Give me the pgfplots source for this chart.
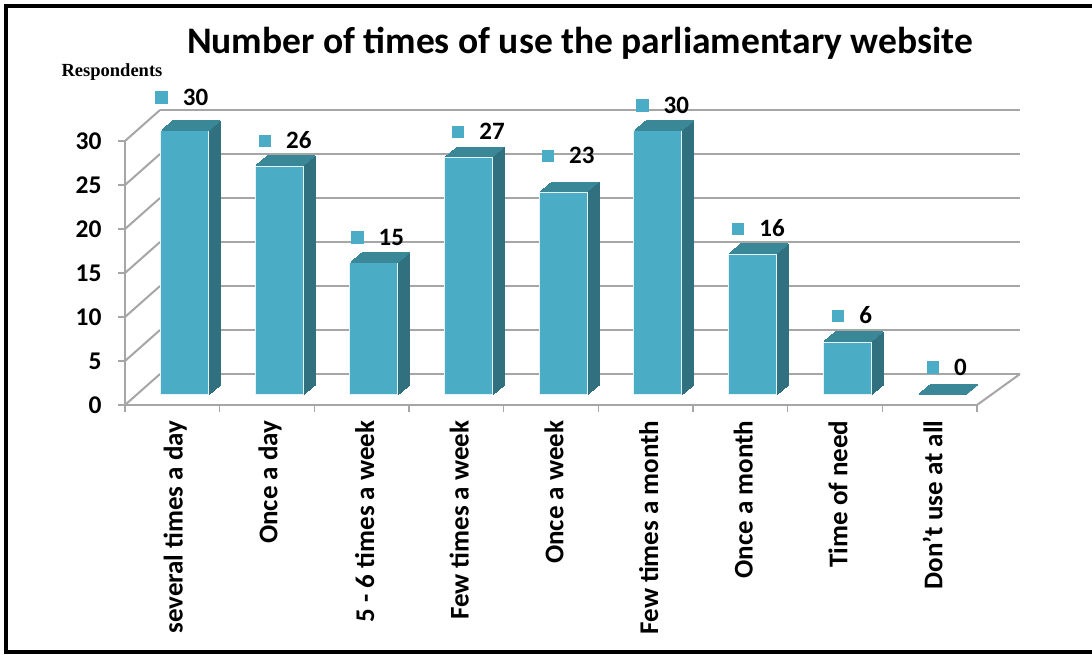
\documentclass[border=0pt]{standalone}
\usepackage{pgfplots}
\pgfplotsset{compat=1.18}
\usepackage{pgfplotstable}
\usepackage{fontspec}
\setmainfont{Carlito}
\newfontfamily\timesfont{Liberation Serif}
\definecolor{front}{HTML}{4BACC6}
\definecolor{side}{HTML}{31707E}
\definecolor{topc}{HTML}{3A8797}
\definecolor{gridc}{HTML}{A6A6A6}

\pgfplotstableread{
x y off xoff
0 30 44 9.5
1 26 36 18
2 15 36 16
3 27 36 22
4 23 47 17
5 30 36 17
6 16 36 18
7 6 37 17
8 0 38 17
}\data

\newcommand{\sideplot}[2]{\addplot[ybar, bar width=48pt, bar shift=0pt, fill=side, draw=side, line width=0.8pt, xshift=#1pt, yshift=#2pt, forget plot] table[x=x,y=y]{\data};}
\newcommand{\topplot}[2]{\addplot[only marks, mark=-, mark size=24pt, mark options={draw=topc, line width=1.6pt}, xshift=#1pt, yshift=#2pt, forget plot] table[x=x,y=y]{\data};}

\begin{document}
\begin{tikzpicture}
\useasboundingbox (0,0) rectangle (1092pt,655pt);
\fill[white] (0,0) rectangle (1092pt,655pt);
\draw[line width=4pt] (1100pt,649pt) -- (6pt,649pt) -- (6pt,2.5pt) -- (1100pt,2.5pt);
\node[font=\fontsize{37.5}{42}\selectfont\bfseries] at (580pt,612pt) {Number of times of use the parliamentary website};
\node[font=\timesfont\fontsize{18.5}{20}\selectfont\bfseries] at (112pt,583pt) {Respondents};
\begin{axis}[
  at={(125pt,250pt)}, anchor=south west,
  scale only axis, width=852pt, height=264pt,
  xmin=-0.5, xmax=8.5, ymin=0, ymax=30,
  clip=false,
  axis x line*=bottom, axis y line*=left,
  axis line style={gridc, line width=1.5pt, -},
  tick style={gridc, line width=1.5pt},
  tick align=outside, major tick length=7pt,
  ytick={0,5,...,30}, yticklabels={0,5,10,15,20,25,30},
  xtick={-0.5,0.5,...,8.5}, xticklabels={},
  extra x ticks={0,1,...,8},
  extra x tick labels={several times a day, Once a day, 5 - 6 times a week, Few times a week, Once a week, Few times a month, Once a month, Time of need, Don{\char39}t use at all},
  extra x tick style={major tick length=0pt},
  xticklabel style={rotate=90, anchor=east, font=\fontsize{27}{30}\selectfont\bfseries, xshift=-12pt, yshift=-3pt},
  yticklabel style={font=\fontsize{25.5}{28}\selectfont\bfseries, xshift=-13pt},
]
\pgfplotsinvokeforeach{0,5,...,30}{
  \draw[gridc, line width=2.5pt] ([shift={(35pt,31pt)}]axis cs:-0.5,#1) -- ([shift={(43pt,31pt)}]axis cs:8.5,#1);
  \draw[gridc, line width=2pt] (axis cs:-0.5,#1) -- ++(35pt,31pt);
}
\draw[gridc, line width=2pt] (axis cs:8.5,0) -- ++(43pt,31pt);

\sideplot{24}{20}
\sideplot{22.8}{19}
\sideplot{21.6}{18}
\sideplot{20.4}{17}
\sideplot{19.2}{16}
\sideplot{18}{15}
\sideplot{16.8}{14}
\sideplot{15.6}{13}
\sideplot{14.4}{12}
\sideplot{13.2}{11}
\topplot{24}{20}
\topplot{22.8}{19}
\topplot{21.6}{18}
\topplot{20.4}{17}
\topplot{19.2}{16}
\topplot{18}{15}
\topplot{16.8}{14}
\topplot{15.6}{13}
\topplot{14.4}{12}
\topplot{13.2}{11}
\addplot[ybar, bar width=48pt, bar shift=0pt, fill=front, draw=white!85!front, line width=1pt, xshift=12pt, yshift=10pt] table[x=x,y=y]{\data};

\addplot[only marks, mark=text, text mark={},
  point meta=explicit symbolic,
  visualization depends on={\thisrow{off} \as \myoff},
  visualization depends on={\thisrow{xoff} \as \myxoff},
  nodes near coords={\textcolor{front}{\raisebox{1.5pt}{\rule{12.5pt}{12.5pt}}}\hspace{15pt}\pgfplotspointmeta},
  every node near coord/.append style={anchor=center, xshift=\myxoff pt, yshift=\myoff pt, font=\fontsize{25}{28}\selectfont\bfseries, inner sep=0pt}
] table[x=x,y=y,meta=y]{\data};
\end{axis}
\end{tikzpicture}
\end{document}
